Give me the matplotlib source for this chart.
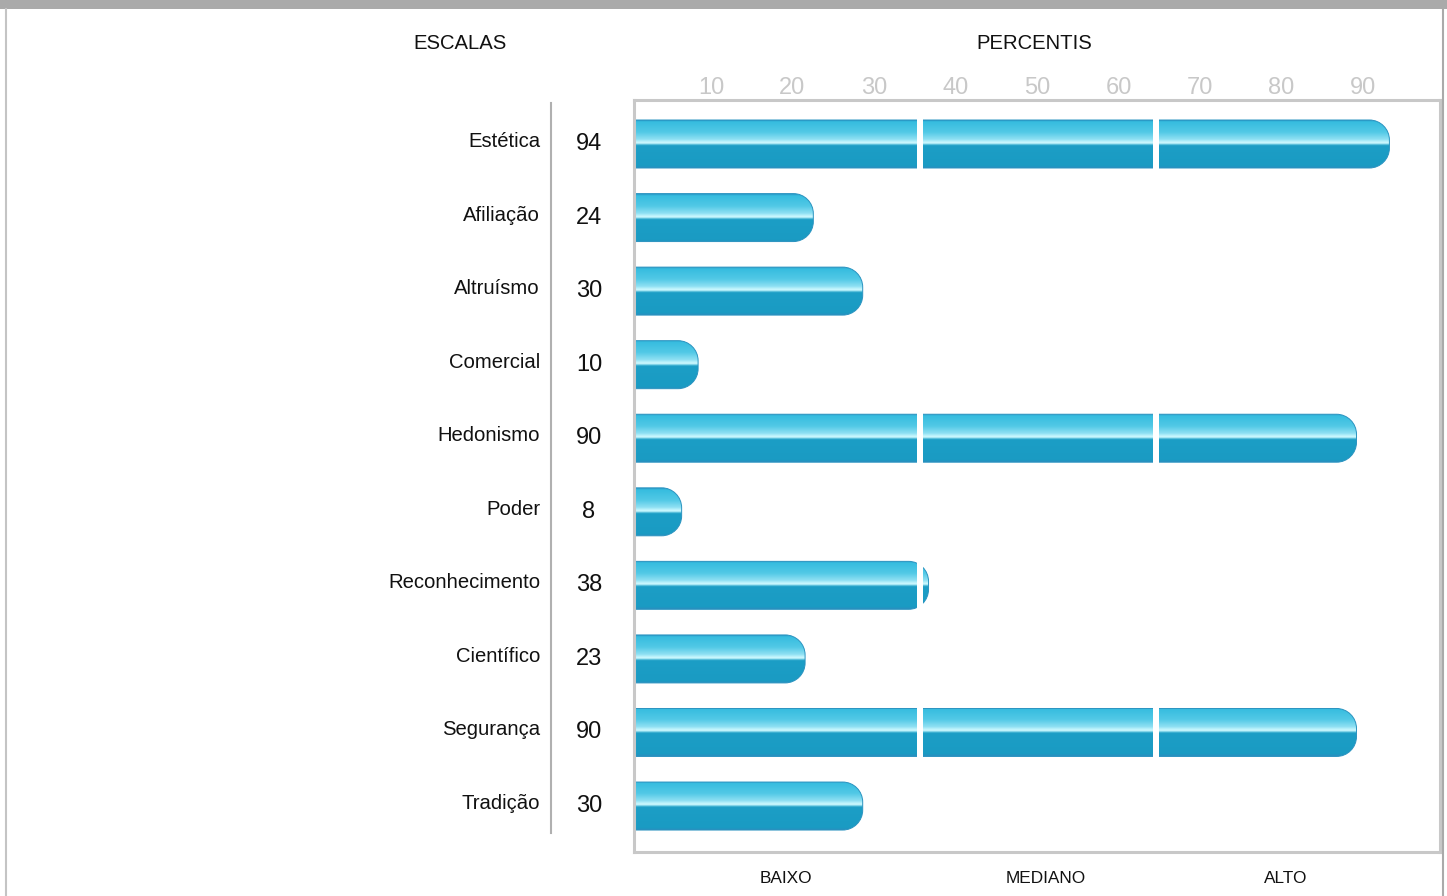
import numpy as np
import matplotlib
matplotlib.use("Agg")
import matplotlib.pyplot as plt
from matplotlib.path import Path
from matplotlib.patches import PathPatch, Rectangle
from matplotlib.lines import Line2D
from matplotlib.colors import to_rgb

# ---------------- data ----------------
categories = ['Estética', 'Afiliação', 'Altruísmo', 'Comercial', 'Hedonismo',
              'Poder', 'Reconhecimento', 'Científico', 'Segurança', 'Tradição']
values = [94, 24, 30, 10, 90, 8, 38, 23, 90, 30]
tick_values = [10, 20, 30, 40, 50, 60, 70, 80, 90]
band_labels = ['BAIXO', 'MEDIANO', 'ALTO']

plt.rcParams['font.family'] = ['Liberation Sans', 'DejaVu Sans']

W, H = 1447, 896
fig = plt.figure(figsize=(W / 100, H / 100), dpi=100)

def fx(px):
    return px / W

def fy(py):
    return 1 - py / H

# plot frame (pixel geometry)
L, R, T, B = 634, 1440, 100, 852
ax = fig.add_axes([fx(L), fy(B), fx(R) - fx(L), (B - T) / H])

px_per_unit = 8.23
zero_px = 615.8
row0_px = 144
row_px = 73.56
bar_h = 48 / row_px

xlim = ((L - zero_px) / px_per_unit, (R - zero_px) / px_per_unit)
ylim = ((B - row0_px) / row_px, -(row0_px - T) / row_px)

# gradient for the glossy bars (top -> bottom)
stops = [(0.00, '#2a9bc8'), (0.03, '#36bcdf'), (0.25, '#52c9e6'),
         (0.40, '#8fe0f3'), (0.45, '#bdf3fc'), (0.48, '#d2faff'),
         (0.50, '#7fd4e8'), (0.53, '#1c9ec6'), (0.96, '#1a9bc3'),
         (1.00, '#2a8fbf')]
n = 96
pos = np.linspace(0, 1, n)
sp = [s[0] for s in stops]
cols = np.array([to_rgb(s[1]) for s in stops])
grad = np.stack([np.interp(pos, sp, cols[:, i]) for i in range(3)], axis=1)
grad_img = np.repeat(grad[:, None, :], 4, axis=1)

rx = 20 / px_per_unit
ry = 20 / row_px
k = 0.5523

for i, v in enumerate(values):
    yc = i
    yt = yc - bar_h / 2
    yb = yc + bar_h / 2
    x0 = 0
    x1 = v
    verts = [(x0, yt), (x1 - rx, yt),
             (x1 - rx + k * rx, yt), (x1, yt + ry - k * ry), (x1, yt + ry),
             (x1, yb - ry),
             (x1, yb - ry + k * ry), (x1 - rx + k * rx, yb), (x1 - rx, yb),
             (x0, yb), (x0, yt)]
    codes = [Path.MOVETO, Path.LINETO,
             Path.CURVE4, Path.CURVE4, Path.CURVE4,
             Path.LINETO,
             Path.CURVE4, Path.CURVE4, Path.CURVE4,
             Path.LINETO, Path.CLOSEPOLY]
    path = Path(verts, codes)
    clip = PathPatch(path, transform=ax.transData, fc='none', ec='none')
    ax.add_patch(clip)
    im = ax.imshow(grad_img, extent=(x0, x1, yb, yt), origin='upper',
                   aspect='auto', interpolation='bilinear', zorder=1)
    im.set_clip_path(clip)
    ax.add_patch(PathPatch(path, fc='none', ec='#2a93c0', lw=0.7, zorder=1.2))

# white gaps separating BAIXO / MEDIANO / ALTO bands
for g0, g1 in [(917, 923), (1153, 1159)]:
    ax.axvspan((g0 - zero_px) / px_per_unit, (g1 - zero_px) / px_per_unit,
               color='white', lw=0, zorder=2)

ax.set_xlim(*xlim)
ax.set_ylim(*ylim)

for s in ax.spines.values():
    s.set_color('#c8c8c8')
    s.set_linewidth(2.2)
ax.set_xticks([])
ax.set_yticks([])

# percentile tick labels on top
ax2 = ax.twiny()
tick_zero_px = 629.5
tick_px_per_unit = 8.15
ax2.set_xlim((L - tick_zero_px) / tick_px_per_unit, (R - tick_zero_px) / tick_px_per_unit)
ax2.set_xticks(tick_values)
ax2.set_xticklabels([str(t) for t in tick_values])
ax2.tick_params(axis='x', length=0, pad=1, labelsize=17, labelcolor='#c8c8c8')
for s in ax2.spines.values():
    s.set_visible(False)
ax2.set_yticks([])

# category labels, values
ytr = ax.get_yaxis_transform()
for i, (c, v) in enumerate(zip(categories, values)):
    ax.text((540 - L) / (R - L), i + 3 / row_px, c, transform=ytr, ha='right',
            va='baseline', fontsize=14.6, color='#111111', clip_on=False)
    ax.text((589 - L) / (R - L), i + 6 / row_px, str(v), transform=ytr, ha='center',
            va='baseline', fontsize=17, color='#111111', clip_on=False)

# separator line between labels and values
ax.add_line(Line2D([(551 - L) / (R - L)] * 2,
                   [(103 - row0_px) / row_px, (833 - row0_px) / row_px],
                   transform=ytr, color='#b0b0b0', lw=1.5, clip_on=False))

# headers
fig.text(fx(460), fy(49), 'ESCALAS', ha='center', va='baseline', fontsize=14.6, color='#111111')
fig.text(fx(1034), fy(49), 'PERCENTIS', ha='center', va='baseline', fontsize=14.6, color='#111111')

# band labels at the bottom
for lab, px in zip(band_labels, [786, 1046, 1286]):
    fig.text(fx(px), fy(883), lab, ha='center', va='baseline', fontsize=12.4, color='#111111')

# outer decorations
fig.patches.append(Rectangle((0, fy(9)), 1, 9 / H, transform=fig.transFigure,
                             facecolor='#aaaaaa', edgecolor='none'))
fig.lines.append(Line2D([fx(5.5)] * 2, [0, fy(9)], transform=fig.transFigure,
                        color='#c4c4c4', lw=1.5))
fig.lines.append(Line2D([fx(1443)] * 2, [0, 1], transform=fig.transFigure,
                        color='#aaaaaa', lw=1.5))

fig.savefig('out.png', dpi=100)
